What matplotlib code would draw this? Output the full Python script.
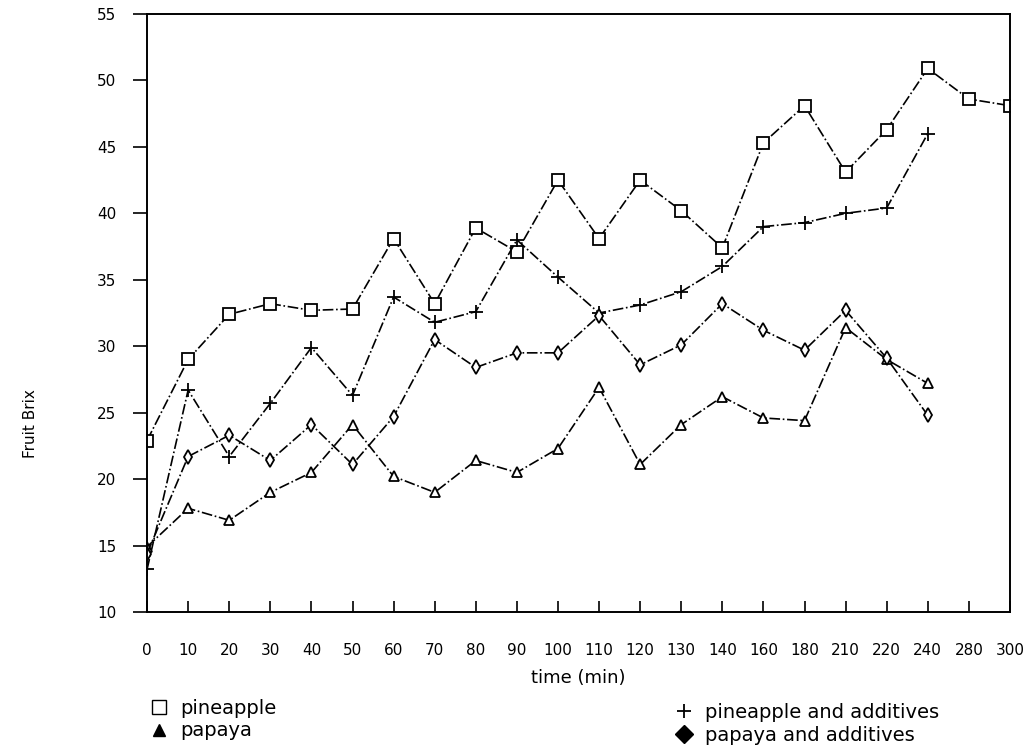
import matplotlib
matplotlib.use("Agg")
import matplotlib.pyplot as plt
from matplotlib.lines import Line2D

# time points (categorical axis, equal spacing)
times = ["0", "10", "20", "30", "40", "50", "60", "70", "80", "90", "100",
         "110", "120", "130", "140", "160", "180", "210", "220", "240", "280", "300"]

pineapple = [22.9, 29.0, 32.4, 33.2, 32.7, 32.8, 38.1, 33.2, 38.9, 37.1, 42.5,
             38.1, 42.5, 40.2, 37.4, 45.3, 48.1, 43.1, 46.3, 50.9, 48.6, 48.1]
pineapple_add = [13.2, 26.7, 21.7, 25.7, 29.9, 26.3, 33.7, 31.8, 32.6, 38.0,
                 35.2, 32.5, 33.1, 34.1, 36.0, 39.0, 39.3, 40.0, 40.4, 46.0]
papaya = [14.9, 17.8, 16.9, 19.0, 20.5, 24.1, 20.2, 19.0, 21.4, 20.5,
          22.3, 26.9, 21.1, 24.1, 26.2, 24.6, 24.4, 31.4, 29.0, 27.2]
papaya_add = [14.4, 21.7, 23.3, 21.4, 24.1, 21.1, 24.7, 30.5, 28.4, 29.5,
              29.5, 32.3, 28.6, 30.1, 33.2, 31.2, 29.7, 32.7, 29.1, 24.8]

yticks = [10, 15, 20, 25, 30, 35, 40, 45, 50, 55]

fig = plt.figure(figsize=(10.29, 7.56), dpi=100)
ax = fig.add_axes([0.1429, 0.1905, 0.8386, 0.791])

x_all = list(range(len(times)))
style = dict(color="black", linestyle="-.", linewidth=1.2, markerfacecolor="white",
             markeredgecolor="black", markeredgewidth=1.3)

ax.plot(x_all[:len(pineapple)], pineapple, marker="s", markersize=8, **style)
ax.plot(x_all[:len(pineapple_add)], pineapple_add, marker="+", markersize=10, **style)
ax.plot(x_all[:len(papaya)], papaya, marker="^", markersize=7, **style)
ax.plot(x_all[:len(papaya_add)], papaya_add, marker="d", markersize=7, **style)

ax.set_xlim(0, len(times) - 1)
ax.set_ylim(10, 55)
ax.set_xticks(x_all)
ax.set_xticklabels(times, fontsize=11)
ax.set_yticks(yticks)
ax.set_yticklabels([str(v) for v in yticks], fontsize=11)
ax.tick_params(axis="x", direction="in", length=8, width=1.2, pad=22, top=False)
ax.tick_params(axis="y", direction="out", length=10, width=1.2, pad=12, right=False)
for s in ax.spines.values():
    s.set_linewidth(1.4)

ax.set_xlabel("time (min)", fontsize=13, labelpad=8)
fig.text(0.03, 0.44, "Fruit Brix", rotation=90, fontsize=11, ha="center", va="center")

h1 = [Line2D([], [], linestyle="none", marker="s", markersize=10, markerfacecolor="white",
             markeredgecolor="black", markeredgewidth=1.0),
      Line2D([], [], linestyle="none", marker="^", markersize=9, color="black")]
h2 = [Line2D([], [], linestyle="none", marker="+", markersize=10, color="black",
             markeredgewidth=1.3),
      Line2D([], [], linestyle="none", marker="D", markersize=9, color="black")]

fig.legend(h1, ["pineapple", "papaya"], loc="upper left",
           bbox_to_anchor=(0.145, 0.076), frameon=False, fontsize=14,
           handlelength=1.0, handletextpad=0.6, labelspacing=0.2,
           borderpad=0, borderaxespad=0)
fig.legend(h2, ["pineapple and additives", "papaya and additives"], loc="upper left",
           bbox_to_anchor=(0.655, 0.070), frameon=False, fontsize=14,
           handlelength=1.0, handletextpad=0.6, labelspacing=0.2,
           borderpad=0, borderaxespad=0)

fig.savefig("out.png", dpi=100)
